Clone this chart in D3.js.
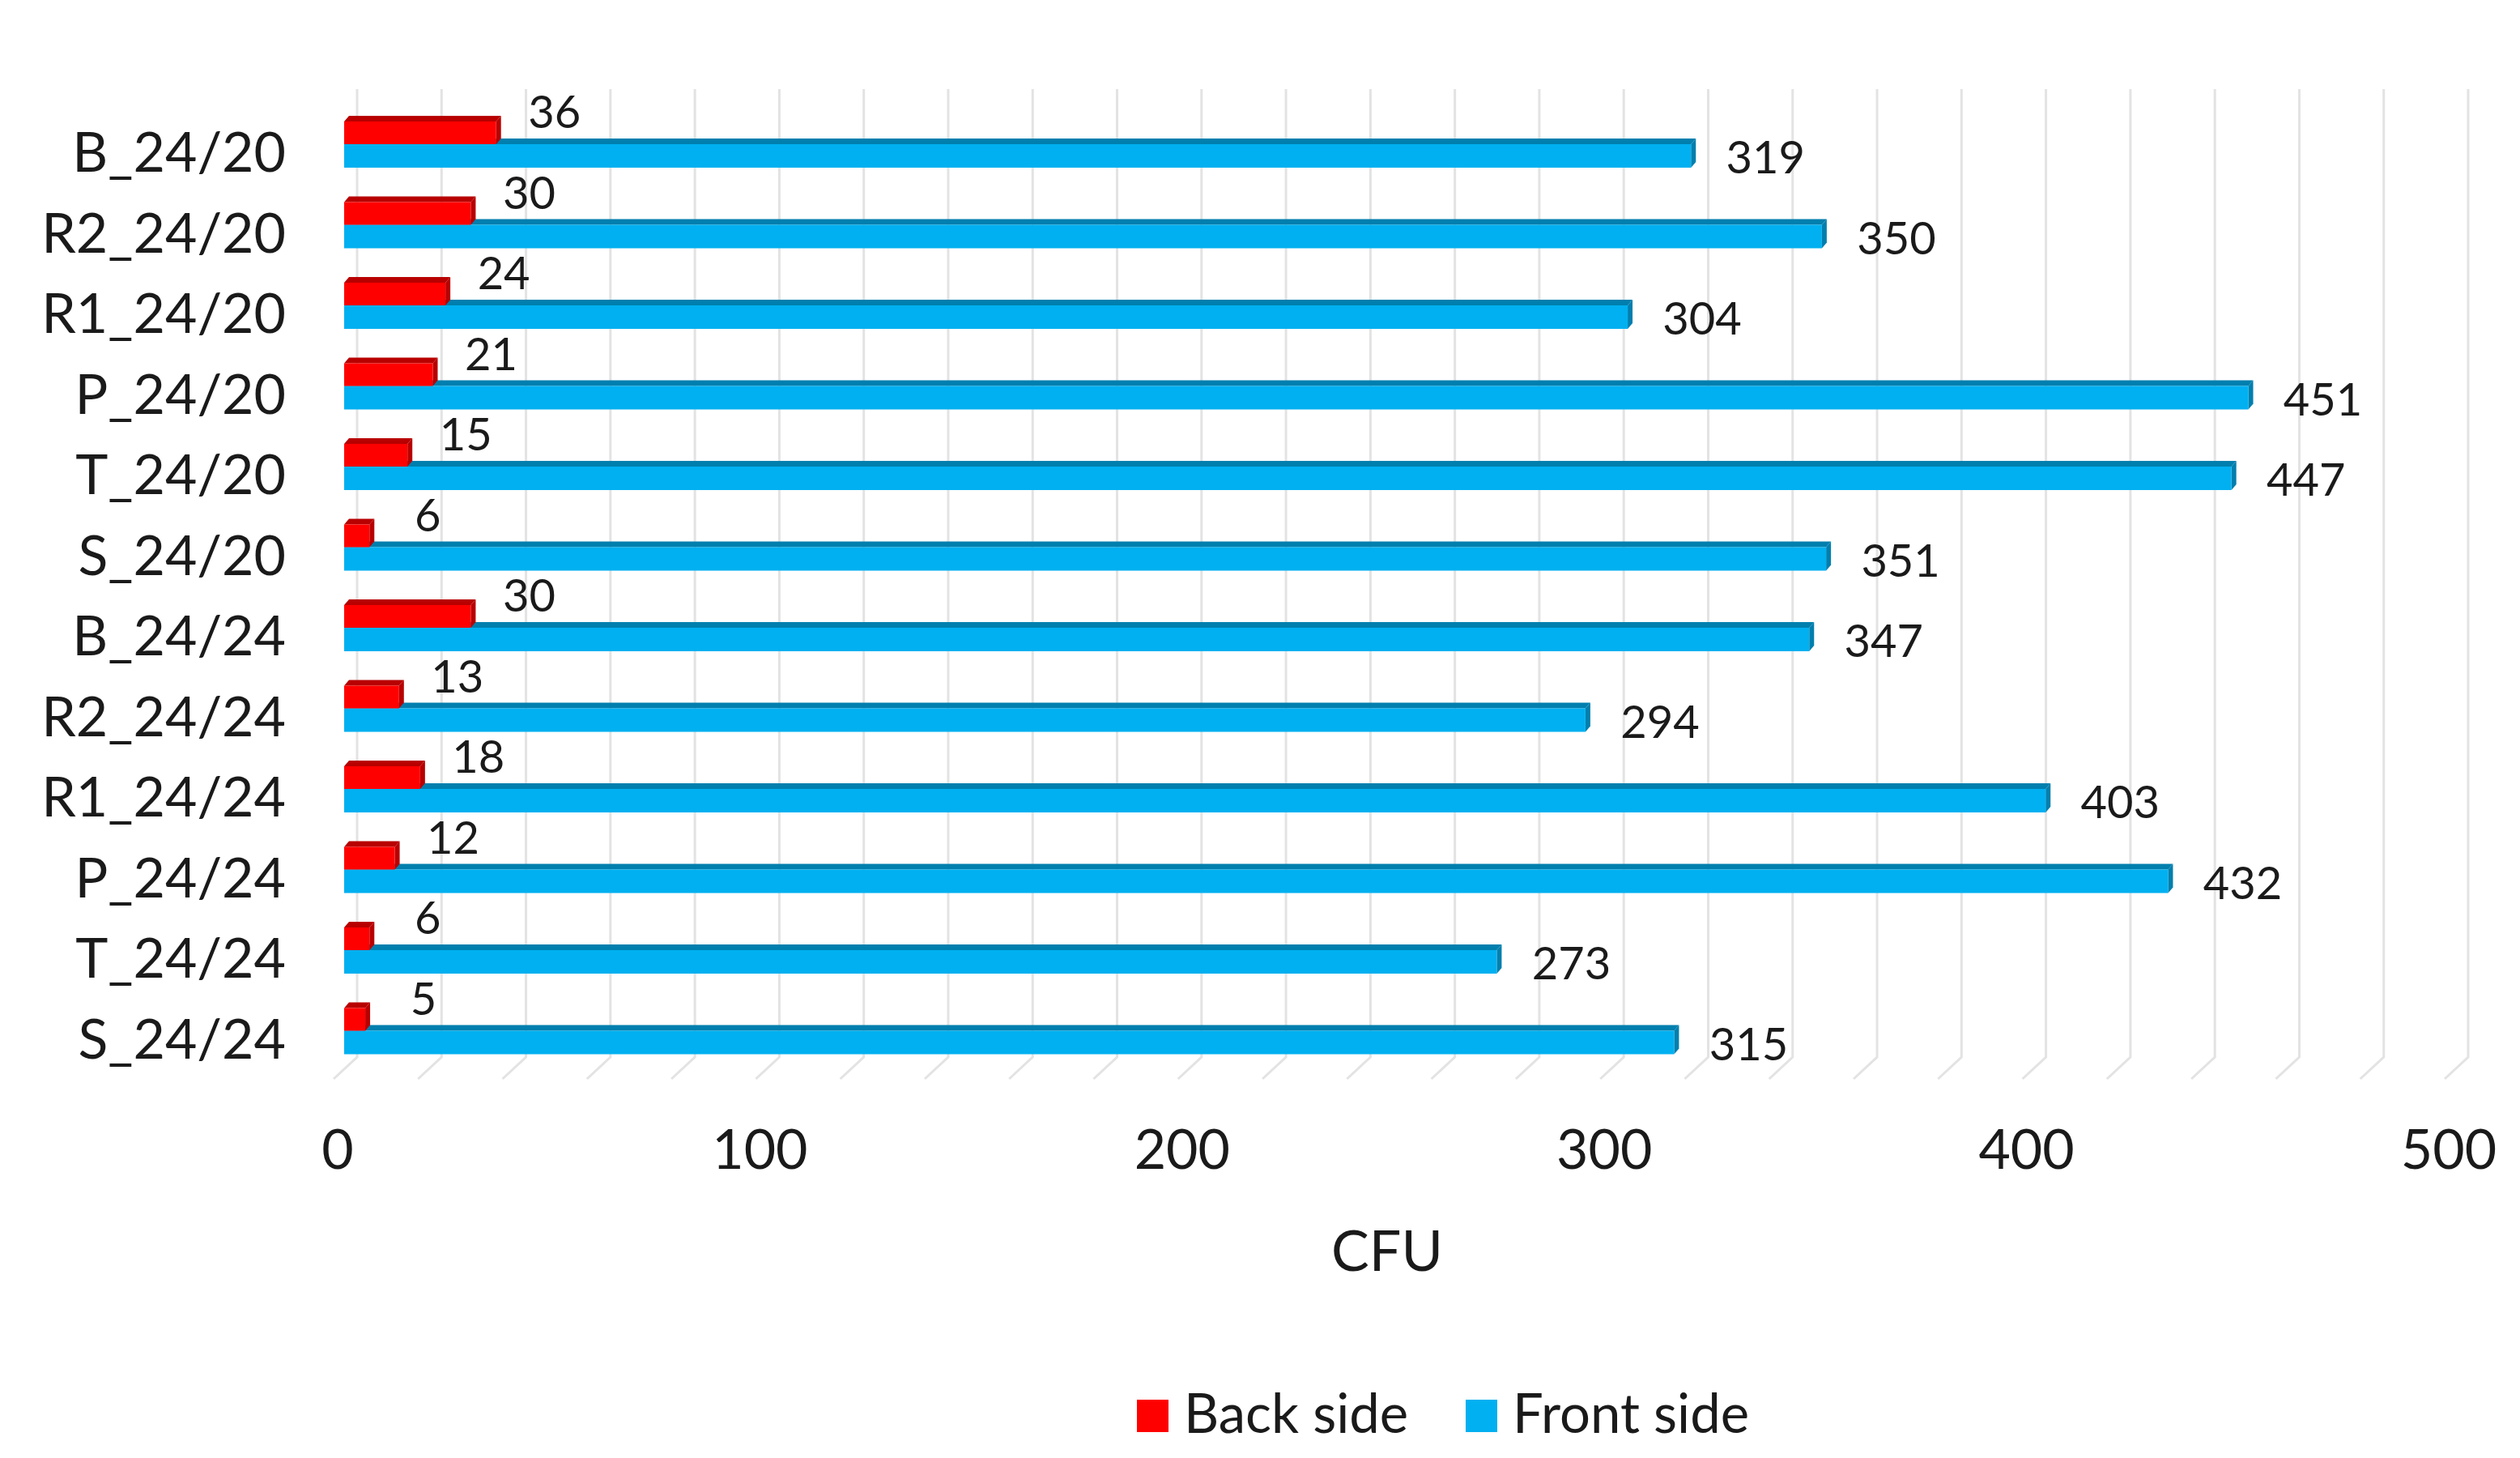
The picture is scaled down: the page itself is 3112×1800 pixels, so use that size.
<!DOCTYPE html>
<html>
<head>
<meta charset="utf-8">
<script src="https://cdn.jsdelivr.net/npm/d3@7"></script>
<style>
  body { margin: 0; background: #fff; }
  text { font-family: Lato, "Open Sans", sans-serif; fill: #1a1a1a; }
</style>
</head>
<body>
<svg width="3112" height="1800"></svg>
<script>
const svg = d3.select('svg');

const categories = ["B_24/20", "R2_24/20", "R1_24/20", "P_24/20", "T_24/20", "S_24/20",
                    "B_24/24", "R2_24/24", "R1_24/24", "P_24/24", "T_24/24", "S_24/24"];
const backSide  = [36, 30, 24, 21, 15, 6, 30, 13, 18, 12, 6, 5];
const frontSide = [319, 350, 304, 451, 447, 351, 347, 294, 403, 432, 273, 315];
const xTicks = [0, 100, 200, 300, 400, 500];
const seriesNames = ["Back side", "Front side"];
const seriesColors = ["#ff0000", "#00b0f0"];
const seriesTop = ["#b80000", "#007fae"];

// 3D depth offset of the bars
const dx = 6, dy = 7;

const x = d3.scaleLinear().domain([0, 500]).range([425, 3032]);
const y = d3.scaleBand().domain(categories).range([143, 143 + 12 * 99.5]);

// back wall gridlines + floor diagonals
const wallTop = 110, wallBottom = 1305;
const grid = svg.append('g').attr('class', 'grid');
d3.range(0, 501, 20).forEach(v => {
    const gx = x(v) + 16;
    grid.append('path')
        .attr('d', `M${gx},${wallTop}V${wallBottom}L${gx - 29},${wallBottom + 27}`)
        .attr('fill', 'none')
        .attr('stroke', '#e3e3e3')
        .attr('stroke-width', 3);
});

// draws one 3D bar: front face, top face, right side face
const bar3d = (g, x1, top, h, front, shade) => {
    const x0 = x(0);
    g.append('path')
        .attr('d', `M${x0},${top}L${x1},${top}L${x1 + dx},${top - dy}L${x0 + dx},${top - dy}Z`)
        .attr('fill', shade);
    g.append('path')
        .attr('d', `M${x1},${top}L${x1 + dx},${top - dy}L${x1 + dx},${top + h - dy}L${x1},${top + h}Z`)
        .attr('fill', shade);
    g.append('rect')
        .attr('x', x0).attr('y', top)
        .attr('width', x1 - x0).attr('height', h)
        .attr('fill', front);
};

const bars = svg.append('g').attr('class', 'bars');
categories.forEach((c, i) => {
    const b = y(c);
    const g = bars.append('g');
    bar3d(g, x(frontSide[i]), b + 35, 29, seriesColors[1], seriesTop[1]);
    bar3d(g, x(backSide[i]), b + 7, 28, seriesColors[0], seriesTop[0]);

    g.append('text')
        .attr('x', x(frontSide[i]) + 92)
        .attr('y', b + 71)
        .attr('text-anchor', 'middle')
        .attr('font-size', 56)
        .text(frontSide[i]);
    g.append('text')
        .attr('x', x(backSide[i]) + 72)
        .attr('y', b + 15)
        .attr('text-anchor', 'middle')
        .attr('font-size', 56)
        .text(backSide[i]);
});

// category labels
svg.append('g').selectAll('text')
    .data(categories)
    .join('text')
    .attr('x', 353)
    .attr('y', d => y(d) + 69)
    .attr('text-anchor', 'end')
    .attr('font-size', 68)
    .text(d => d);

// x tick labels
svg.append('g').selectAll('text')
    .data(xTicks)
    .join('text')
    .attr('x', d => x(d) - 8)
    .attr('y', 1443)
    .attr('text-anchor', 'middle')
    .attr('font-size', 68)
    .text(d => d);

svg.append('text')
    .attr('x', 1713)
    .attr('y', 1569)
    .attr('text-anchor', 'middle')
    .attr('font-size', 70)
    .text('CFU');

// legend
const legendX = [1404, 1810];
const legend = svg.append('g');
seriesNames.forEach((name, i) => {
    legend.append('rect')
        .attr('x', legendX[i]).attr('y', 1728)
        .attr('width', 39).attr('height', 40)
        .attr('fill', seriesColors[i]);
    legend.append('text')
        .attr('x', legendX[i] + 58)
        .attr('y', 1769)
        .attr('font-size', 67)
        .text(name);
});
</script>
</body>
</html>
